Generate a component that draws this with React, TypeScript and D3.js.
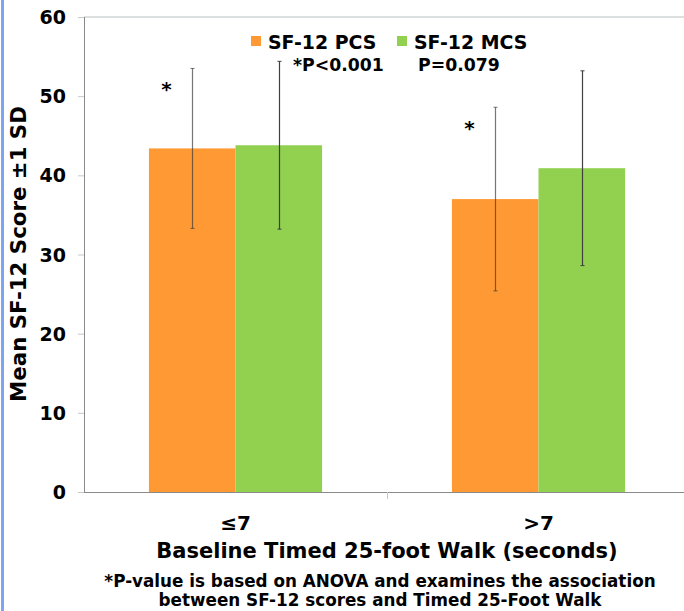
import React, { useEffect, useRef } from "react";
import * as d3 from "d3";

// chart values
const categories = ["≤7", ">7"];
const seriesNames = ["SF-12 PCS", "SF-12 MCS"];
const pValues = ["*P<0.001", "P=0.079"];
const pcsMean = [43.4, 37.0];
const pcsSD = [10.1, 11.6];
const mcsMean = [43.8, 40.9];
const mcsSD = [10.6, 12.3];
const pcsStar = ["*", "*"];
const yTicks = [0, 10, 20, 30, 40, 50, 60];

const colors = ["#ff9933", "#92d050"];
const font = "'DejaVu Sans', Verdana, sans-serif";

export default function App() {
  const ref = useRef<SVGSVGElement>(null);

  useEffect(() => {
    const W = 684,
      H = 611;
    const margin = { top: 17, right: -6, bottom: 119, left: 84 };
    const width = W - margin.left - margin.right;
    const height = H - margin.top - margin.bottom;

    const svg = d3.select(ref.current);
    svg.selectAll("*").remove();

    // blue strip on the left edge of the slide
    svg.append("rect").attr("x", 1).attr("y", 0).attr("width", 3).attr("height", H).attr("fill", "#7ea4f4");

    const g = svg.append("g").attr("transform", "translate(" + margin.left + "," + margin.top + ")");

    const x = d3.scaleBand().domain(categories).range([0, width]);
    const x1 = d3.scaleBand().domain(seriesNames).range([0, x.bandwidth()]).paddingOuter(0.75);
    const y = d3.scaleLinear().domain([0, 60]).range([height, 0]);

    // top gridline
    g.append("line").attr("x1", 0).attr("x2", width).attr("y1", y(60)).attr("y2", y(60)).attr("stroke", "#b8c0c0");

    const series = [
      { name: seriesNames[0], mean: pcsMean, sd: pcsSD },
      { name: seriesNames[1], mean: mcsMean, sd: mcsSD },
    ];

    // bars
    series.forEach((s, si) => {
      categories.forEach((c, ci) => {
        g.append("rect")
          .attr("x", x(c)! + x1(s.name)!)
          .attr("y", y(s.mean[ci]))
          .attr("width", x1.bandwidth())
          .attr("height", height - y(s.mean[ci]))
          .attr("fill", colors[si]);
      });
    });

    // error bars (±1 SD)
    series.forEach((s, si) => {
      categories.forEach((c, ci) => {
        const cx = Math.round(x(c)! + x1(s.name)! + x1.bandwidth() / 2) + 0.5;
        const top = y(s.mean[ci] + s.sd[ci]);
        const bot = y(s.mean[ci] - s.sd[ci]);
        const col = si === 0 ? "rgba(60,60,60,0.7)" : "#404040";
        g.append("line").attr("x1", cx).attr("x2", cx).attr("y1", top).attr("y2", bot).attr("stroke", col).attr("stroke-width", 1.2);
        [top, bot].forEach((yy) => {
          g.append("line").attr("x1", cx - 2).attr("x2", cx + 2).attr("y1", yy).attr("y2", yy).attr("stroke", col);
        });
        if (si === 0) {
          g.append("text")
            .attr("x", cx - 26)
            .attr("y", top + 28)
            .attr("text-anchor", "middle")
            .attr("font-family", font)
            .attr("font-weight", "bold")
            .attr("font-size", 20)
            .text(pcsStar[ci]);
        }
      });
    });

    // y axis
    g.append("line").attr("x1", 0.5).attr("x2", 0.5).attr("y1", y(60)).attr("y2", height).attr("stroke", "#8a8a8a");
    yTicks.forEach((t) => {
      g.append("line").attr("x1", -6).attr("x2", 0).attr("y1", y(t) + 0.5).attr("y2", y(t) + 0.5).attr("stroke", "#c8c8c8");
      g.append("text")
        .attr("x", -18)
        .attr("y", y(t) + 7)
        .attr("text-anchor", "end")
        .attr("font-family", font)
        .attr("font-weight", "bold")
        .attr("font-size", 19)
        .text(t);
    });

    // x axis
    g.append("line").attr("x1", 0).attr("x2", width).attr("y1", height + 0.5).attr("y2", height + 0.5).attr("stroke", "#8a8a8a");
    g.append("line")
      .attr("x1", x(categories[1])! + 0.5)
      .attr("x2", x(categories[1])! + 0.5)
      .attr("y1", height)
      .attr("y2", height + 7)
      .attr("stroke", "#c8c8c8");
    categories.forEach((c) => {
      g.append("text")
        .attr("x", x(c)! + x.bandwidth() / 2)
        .attr("y", height + 38)
        .attr("text-anchor", "middle")
        .attr("font-family", font)
        .attr("font-weight", "bold")
        .attr("font-size", 20)
        .text(c);
    });

    // axis titles
    svg.append("text")
      .attr("transform", "translate(26,254) rotate(-90)")
      .attr("text-anchor", "middle")
      .attr("font-family", font)
      .attr("font-weight", "bold")
      .attr("font-size", 21.3)
      .text("Mean SF-12 Score ±1 SD");
    svg.append("text")
      .attr("x", 387)
      .attr("y", 558)
      .attr("text-anchor", "middle")
      .attr("font-family", font)
      .attr("font-weight", "bold")
      .attr("font-size", 21)
      .text("Baseline Timed 25-foot Walk (seconds)");
    svg.append("text")
      .attr("x", 380)
      .attr("y", 587)
      .attr("text-anchor", "middle")
      .attr("font-family", font)
      .attr("font-weight", "bold")
      .attr("font-size", 16.8)
      .text("*P-value is based on ANOVA and examines the association");
    svg.append("text")
      .attr("x", 380)
      .attr("y", 606)
      .attr("text-anchor", "middle")
      .attr("font-family", font)
      .attr("font-weight", "bold")
      .attr("font-size", 16.8)
      .text("between SF-12 scores and Timed 25-Foot Walk");

    // legend
    const legX = [251, 397];
    seriesNames.forEach((n, i) => {
      svg.append("rect").attr("x", legX[i]).attr("y", 36).attr("width", 10).attr("height", 10).attr("fill", colors[i]);
      svg.append("text")
        .attr("x", legX[i] + 17)
        .attr("y", 49)
        .attr("font-family", font)
        .attr("font-weight", "bold")
        .attr("font-size", 18.9)
        .text(n);
      svg.append("text")
        .attr("x", legX[i] + (i === 0 ? 42 : 21))
        .attr("y", 71)
        .attr("font-family", font)
        .attr("font-weight", "bold")
        .attr("font-size", 17.3)
        .text(pValues[i]);
    });
  }, []);

  return (
    <svg
      ref={ref}
      width={684}
      height={611}
      style={{ position: "fixed", left: 0, top: 0, background: "#fff" }}
    />
  );
}
